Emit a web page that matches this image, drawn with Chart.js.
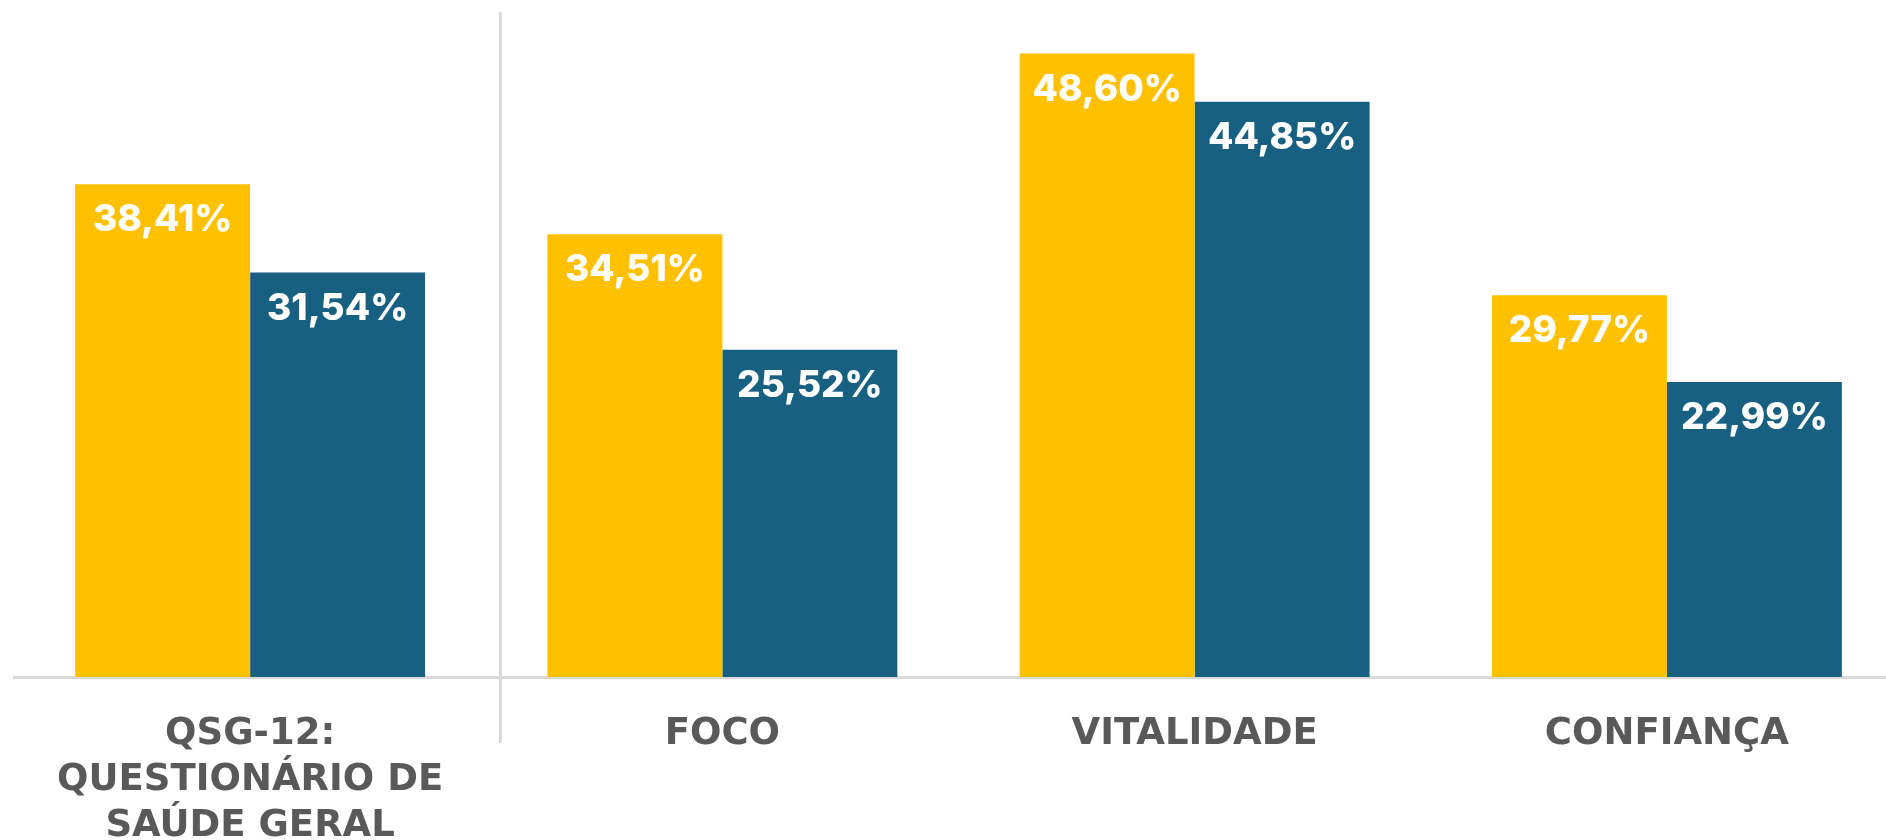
<!DOCTYPE html>
<html lang="pt">
<head>
<meta charset="utf-8">
<title>QSG-12</title>
<script src="https://cdn.jsdelivr.net/npm/chart.js@4/dist/chart.umd.min.js"></script>
<style>
    html, body { margin: 0; padding: 0; background: #fff; overflow: hidden; }
    .graph { position: absolute; left: 0; top: 0; width: 1903px; height: 840px; }
</style>
</head>
<body>
<div class="graph"><canvas id="chart"></canvas></div>
<script>
const categories = [
    ['QSG-12:', 'QUESTIONÁRIO DE', 'SAÚDE GERAL'],
    'FOCO',
    'VITALIDADE',
    'CONFIANÇA',
];
const serieA = [38.41, 34.51, 48.60, 29.77];
const serieB = [31.54, 25.52, 44.85, 22.99];

const YELLOW = '#FFC000';
const BLUE = '#186082';
const LINE = '#D9D9D9';

const fmt = v => v.toFixed(2).replace('.', ',') + '%';

// value labels inside the top of each bar
const valueLabels = {
    id: 'valueLabels',
    afterDatasetsDraw(chart) {
        const ctx = chart.ctx;
        ctx.save();
        ctx.fillStyle = '#fff';
        ctx.font = '800 37px Inter';
        ctx.textAlign = 'center';
        ctx.textBaseline = 'middle';
        chart.data.datasets.forEach((ds, i) => {
            chart.getDatasetMeta(i).data.forEach((bar, j) => {
                ctx.fillText(fmt(ds.data[j]), bar.x, bar.y + 36);
            });
        });
        ctx.restore();
    }
};

// vertical divider after the first group
const divider = {
    id: 'divider',
    beforeDatasetsDraw(chart) {
        const x = chart.scales.x.getPixelForValue(0.53);
        const area = chart.chartArea;
        const ctx = chart.ctx;
        ctx.save();
        ctx.strokeStyle = LINE;
        ctx.lineWidth = 3;
        ctx.beginPath();
        ctx.moveTo(x, area.top + 2);
        ctx.lineTo(x, area.bottom + 66);
        ctx.stroke();
        ctx.restore();
    }
};

const config = {
    type: 'bar',
    data: {
        labels: categories,
        datasets: [
            { label: 'Série 1', data: serieA, backgroundColor: YELLOW },
            { label: 'Série 2', data: serieB, backgroundColor: BLUE },
        ]
    },
    options: {
        responsive: true,
        maintainAspectRatio: false,
        animation: false,
        layout: { padding: { left: 14, top: 10, right: 0, bottom: 0 } },
        datasets: { bar: { categoryPercentage: 0.741, barPercentage: 1 } },
        plugins: { legend: { display: false }, tooltip: { enabled: false } },
        scales: {
            y: { display: false, min: 0, max: 52 },
            x: {
                grid: { display: false, drawTicks: false },
                border: { display: true, color: LINE, width: 3 },
                ticks: {
                    autoSkip: false,
                    maxRotation: 0,
                    padding: 34,
                    color: '#595959',
                    font: { family: 'DejaVu Sans', size: 37, weight: 'bold', lineHeight: 46 / 37 },
                },
                afterFit(scale) { scale.height = 163; },
            }
        }
    },
    plugins: [divider, valueLabels]
};

new Chart(document.getElementById('chart'), config);
</script>
</body>
</html>
